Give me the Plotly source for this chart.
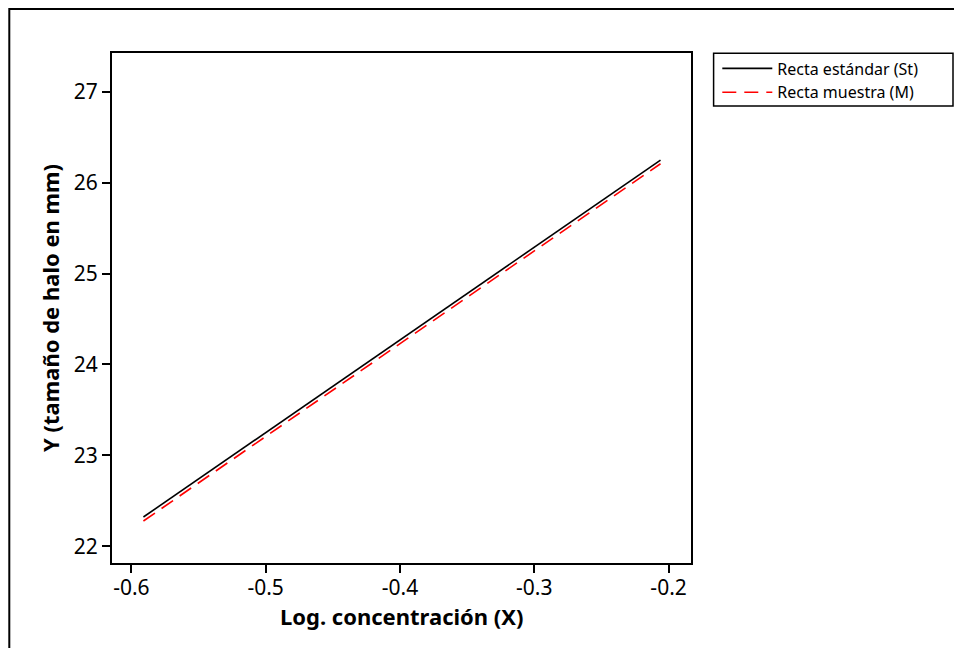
import plotly.graph_objects as go

# Data
x_vals = [-0.591, -0.206]
y_std = [22.322, 26.248]
y_sample = [22.278, 26.208]
x_ticks = [-0.6, -0.5, -0.4, -0.3, -0.2]
x_ticktext = ["-0.6", "-0.5", "-0.4", "-0.3", "-0.2"]
y_ticks = [22, 23, 24, 25, 26, 27]
y_ticktext = ["22", "23", "24", "25", "26", "27"]
series_names = ["Recta estándar (St)", "Recta muestra (M)"]
x_title = "Log. concentración (X)"
y_title = "Y (tamaño de halo en mm)"

FONT = "Noto Sans"

fig = go.Figure()
fig.add_trace(go.Scatter(x=x_vals, y=y_std, mode="lines", name=series_names[0],
                         line=dict(color="black", width=1.6)))
fig.add_trace(go.Scatter(x=x_vals, y=y_sample, mode="lines", name=series_names[1],
                         line=dict(color="#ff0000", width=1.6, dash="14px,8px")))

# page body has an 8px margin: convert screen pixels to figure pixels
OFF = 8
W, H = 962 - OFF, 648 - OFF
L, R, T, B = 111.7 - OFF, 690.7 - OFF, 53.0 - OFF, 562.7 - OFF
pw, ph = R - L, B - T

def px2paper_x(p):
    return (p - OFF - L) / pw

def px2paper_y(p):
    return (B - (p - OFF)) / ph

fig.update_layout(
    width=W, height=H,
    margin=dict(l=L, r=W - R, t=T, b=H - B, pad=0),
    paper_bgcolor="white", plot_bgcolor="white",
    font=dict(family=FONT, color="black", size=21),
    showlegend=True,
    legend=dict(
        x=px2paper_x(717), y=px2paper_y(51.5), xanchor="left", yanchor="top",
        borderwidth=0, bgcolor="rgba(0,0,0,0)",
        font=dict(family=FONT, size=16, color="black"),
        itemwidth=50, tracegroupgap=0,
    ),
    xaxis=dict(
        range=[-0.6144, -0.1833], tickvals=x_ticks, ticktext=x_ticktext,
        showgrid=False, zeroline=False, showline=True, linecolor="black", linewidth=2,
        mirror=True, ticks="outside", ticklen=8, tickwidth=1.5, tickcolor="black",
        tickfont=dict(family=FONT, size=21), ticklabelstandoff=-3,
    ),
    yaxis=dict(
        range=[21.816, 27.426], tickvals=y_ticks, ticktext=y_ticktext,
        showgrid=False, zeroline=False, showline=True, linecolor="black", linewidth=2,
        mirror=True, ticks="outside", ticklen=8, tickwidth=1.5, tickcolor="black",
        tickfont=dict(family=FONT, size=21),
        title=dict(text="<b>" + y_title + "</b>", font=dict(family=FONT, size=22), standoff=8),
    ),
    annotations=[dict(
        text="<b>" + x_title + "</b>", xref="paper", yref="paper",
        x=0.5, y=px2paper_y(616), xanchor="center", yanchor="middle",
        showarrow=False, font=dict(family=FONT, size=22, color="black"),
    )],
    shapes=[
        dict(  # outer frame
            type="rect", xref="paper", yref="paper",
            x0=px2paper_x(9), x1=px2paper_x(985), y0=px2paper_y(680), y1=px2paper_y(9),
            line=dict(color="black", width=2), fillcolor="rgba(0,0,0,0)", layer="below",
        ),
        dict(  # legend frame
            type="rect", xref="paper", yref="paper",
            x0=px2paper_x(713.3), x1=px2paper_x(952.7), y0=px2paper_y(106), y1=px2paper_y(53.3),
            line=dict(color="black", width=1.5), fillcolor="rgba(0,0,0,0)", layer="below",
        ),
    ],
)

fig.write_html("out.html")
